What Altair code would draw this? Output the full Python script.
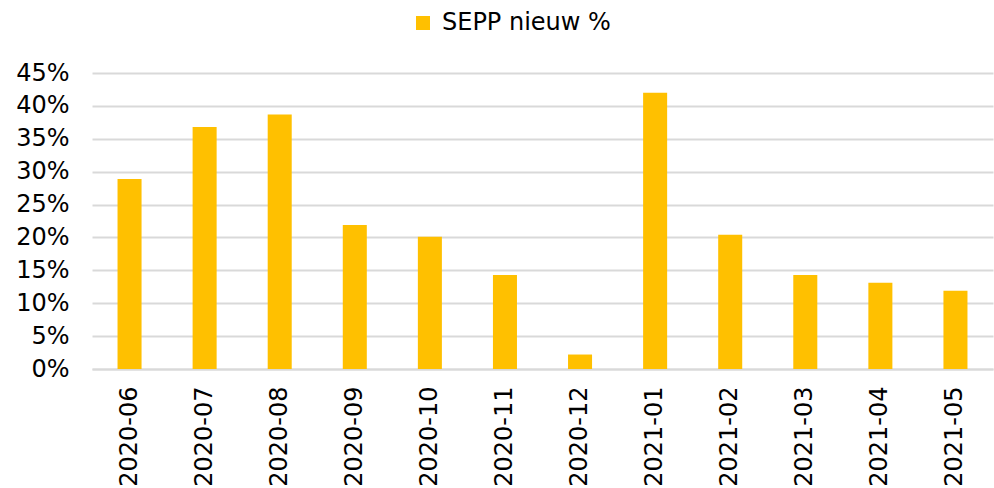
import altair as alt
import pandas as pd

# Monthly share of new SEPP cases
months = ["2020-06", "2020-07", "2020-08", "2020-09", "2020-10", "2020-11",
          "2020-12", "2021-01", "2021-02", "2021-03", "2021-04", "2021-05"]
sepp_new = [0.289, 0.368, 0.387, 0.219, 0.201, 0.143,
            0.022, 0.420, 0.204, 0.143, 0.131, 0.119]
series_name = "SEPP nieuw %"
y_ticks = [0, 0.05, 0.10, 0.15, 0.20, 0.25, 0.30, 0.35, 0.40, 0.45]

df = pd.DataFrame({"maand": months, "waarde": sepp_new, "reeks": series_name})

FONT = "DejaVu Sans"

chart = alt.Chart(df).mark_bar(color="#FFC000").encode(
    x=alt.X(
        "maand:N",
        sort=months,
        title=None,
        scale=alt.Scale(paddingInner=0.68, paddingOuter=0.34),
        axis=alt.Axis(
            labelAngle=-90,
            labelFontSize=24,
            labelFont=FONT,
            labelColor="#000000",
            labelPadding=17,
            ticks=False,
            domainColor="#d9d9d9",
            domainWidth=2,
            grid=False,
        ),
    ),
    y=alt.Y(
        "waarde:Q",
        title=None,
        scale=alt.Scale(domain=[0, 0.45], nice=False),
        axis=alt.Axis(
            values=y_ticks,
            format=".0%",
            labelFontSize=24,
            labelFont=FONT,
            labelColor="#000000",
            labelPadding=23,
            ticks=False,
            domain=False,
            gridColor="#d9d9d9",
            gridWidth=2,
        ),
    ),
    color=alt.Color(
        "reeks:N",
        scale=alt.Scale(domain=[series_name], range=["#FFC000"]),
        legend=alt.Legend(
            title=None,
            orient="none",
            legendX=319,
            legendY=-62,
            symbolType="square",
            symbolSize=196,
            symbolStrokeWidth=0,
            labelFontSize=24,
            labelFont=FONT,
            labelColor="#000000",
            labelOffset=7,
            labelLimit=0,
            padding=0,
        ),
    ),
).properties(
    width=901,
    height=296,
    autosize=alt.AutoSizeParams(type="none"),
    padding={"left": 92, "top": 73, "right": 1, "bottom": 119},
).configure_view(stroke=None)

chart.save("out.html", embed_options={"renderer": "svg", "actions": False})
